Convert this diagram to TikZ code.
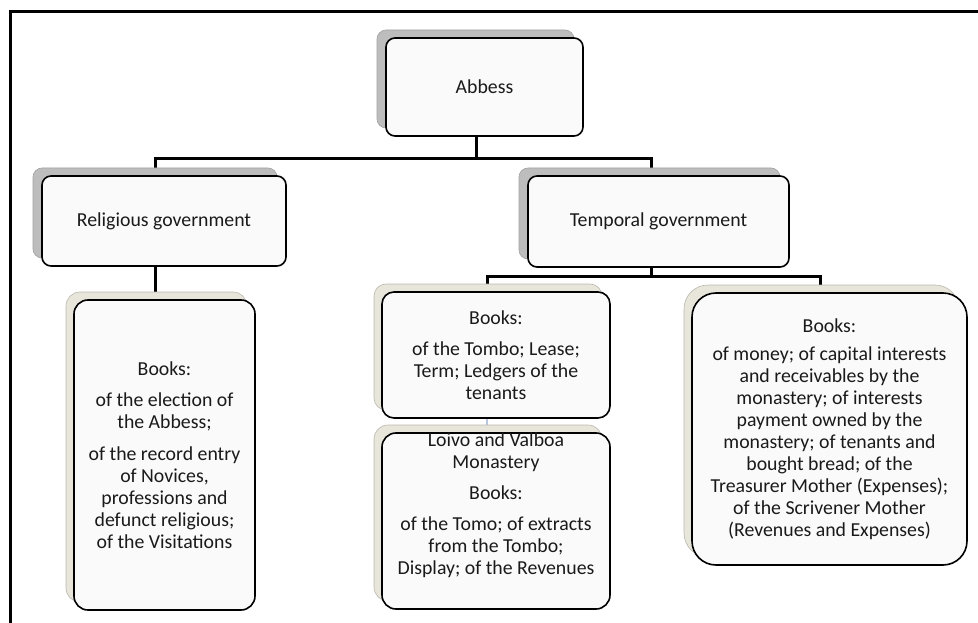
\documentclass[tikz,border=0pt]{standalone}
\usepackage{fontspec}
\setmainfont{Carlito}
\usetikzlibrary{shadows}
\pgfdeclarelayer{bg}
\pgfsetlayers{bg,main}
\definecolor{gshadow}{HTML}{BDBDBD}
\definecolor{bshadow}{HTML}{E8E6DA}
\definecolor{boxfill}{HTML}{FAFAFA}
\definecolor{txtcol}{HTML}{1A1A1A}
\definecolor{faintblue}{HTML}{B8C6DE}
\begin{document}
\begin{tikzpicture}[x=1pt,y=-1pt,
  txt/.style={align=center, text=txtcol, inner sep=0pt, font=\fontsize{19.8}{22}\selectfont},
  base/.style={txt, draw=black, line width=1.6pt, fill=boxfill, rectangle},
  topbox/.style={base, rounded corners=9pt, copy shadow={shadow xshift=-9pt, shadow yshift=8pt, fill=gshadow, draw=gshadow!85!black, line width=0.6pt}},
  bookbox/.style={base, copy shadow={shadow xshift=-8pt, shadow yshift=8pt, fill=bshadow, draw=bshadow!80!black, line width=0.6pt}},
  conn/.style={line width=3pt, black},
]
\useasboundingbox (0,0) rectangle (978,623);
\draw[line width=2.7pt] (10.8,623) -- (10.8,11.3) -- (978,11.3);

\node[topbox, minimum width=197pt, minimum height=98pt] (abbess) at (484.5,87) {Abbess};
\node[topbox, minimum width=244pt, minimum height=90pt] (relig) at (164,221) {Religious government};
\node[topbox, minimum width=261pt, minimum height=91pt] (temporal) at (658.5,221.5) {Temporal government};

\node[bookbox, rounded corners=14pt, minimum width=181pt, minimum height=310pt] (relbooks) at (164.5,455)
  {Books:\\[9.7pt] of the election of\\ the Abbess;\\[9.7pt] of the record entry\\ of Novices,\\ professions and\\ defunct religious;\\ of the Visitations};
\node[bookbox, rounded corners=12pt, minimum width=228pt, minimum height=126pt] (tombo) at (496,355)
  {Books:\\[9pt] of the Tombo; Lease;\\ Term; Ledgers of the\\ tenants};
\node[bookbox, rounded corners=14pt, minimum width=228pt, minimum height=176pt] (loivo) at (496,521) {};
\node[txt] (loivotxt) at (496,505)
  {Loivo and Valboa\\ Monastery\\[9pt] Books:\\[9pt] of the Tomo; of extracts\\ from the Tombo;\\ Display; of the Revenues};
\node[bookbox, rounded corners=24pt, minimum width=275pt, minimum height=272pt] (money) at (829.5,429)
  {Books:\\[5.7pt] of money; of capital interests\\ and receivables by the\\ monastery; of interests\\ payment owned by the\\ monastery; of tenants and\\ bought bread; of the\\ Treasurer Mother (Expenses);\\ of the Scrivener Mother\\ (Revenues and Expenses)};

\coordinate (busL) at (155.5,159);
\coordinate (busR) at (651,159);
\coordinate (abbJ) at (476,159);
\coordinate (tb) at (651,276);
\coordinate (tL) at (487,276);
\coordinate (tR) at (820,276);

\begin{pgfonlayer}{bg}
\draw[conn] (abbess.south -| abbJ) -- (abbJ);
\draw[conn] (relig.north -| busL) |- (busR) -- (temporal.north -| busR);
\draw[conn] (relig.south -| busL) -- (relbooks.north -| busL);
\draw[conn] (temporal.south -| tb) -- (tb);
\draw[conn] (tombo.north -| tL) |- (tR) -- (money.north -| tR);
\draw[faintblue, line width=2pt] (tombo.south -| tL) -- (loivo.north -| tL);
\end{pgfonlayer}
\end{tikzpicture}
\end{document}
